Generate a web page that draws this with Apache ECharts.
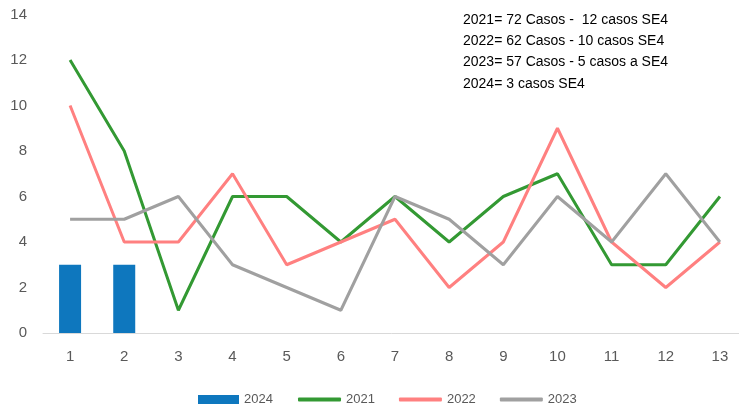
<!DOCTYPE html>
<html><head><meta charset="utf-8">
<script src="https://cdn.jsdelivr.net/npm/echarts@6/dist/echarts.min.js"></script>
<style>html,body{margin:0;padding:0;background:#fff}#c{width:739px;height:411px}</style>
</head><body><div id="c"></div>
<script>
var categories = ['1','2','3','4','5','6','7','8','9','10','11','12','13'];
var s2024 = [3, 3];
var s2021 = [12, 8, 1, 6, 6, 4, 6, 4, 6, 7, 3, 3, 6];
var s2022 = [10, 4, 4, 7, 3, 4, 5, 2, 4, 9, 4, 2, 4];
var s2023 = [5, 5, 6, 3, 2, 1, 6, 5, 3, 6, 4, 7, 4];
var notes = ['2021= 72 Casos -  12 casos SE4', '2022= 62 Casos - 10 casos SE4', '2023= 57 Casos - 5 casos a SE4', '2024= 3 casos SE4'];

var font = 'Liberation Sans, Arial, sans-serif';
var chart = echarts.init(document.getElementById('c'), null, {renderer:'canvas'});
chart.setOption({
  animation: false,
  textStyle: {fontFamily: font},
  grid: {left: 43, top: 14.5, width: 704, height: 318.5, containLabel: false, outerBoundsMode: 'none'},
  xAxis: {
    type: 'category', data: categories, boundaryGap: true,
    axisLine: {lineStyle: {color: '#d9d9d9', width: 1}},
    axisTick: {show: false},
    axisLabel: {color: '#595959', fontSize: 15, margin: 16, fontFamily: font}
  },
  yAxis: {
    type: 'value', min: 0, max: 14, interval: 2,
    axisLine: {show: false}, axisTick: {show: false},
    splitLine: {show: false},
    axisLabel: {color: '#595959', fontSize: 15, margin: 16, fontFamily: font}
  },
  legend: [{
    left: 198, top: 393, padding: 0, itemWidth: 41, itemHeight: 9, icon: 'rect',
    textStyle: {color: '#595959', fontSize: 13, fontFamily: font},
    data: ['2024']
  }, {
    left: 298, top: 393, padding: 0, itemWidth: 43, itemHeight: 4, icon: 'roundRect', itemGap: 24,
    textStyle: {color: '#595959', fontSize: 13, fontFamily: font},
    data: ['2021', '2022', '2023']
  }],
  graphic: notes.map(function(t, i){
    return {type: 'text', left: 463, top: 13 + i * 21.3,
      style: {text: t, fill: '#000', font: '14px ' + font}};
  }),
  series: [
    {name: '2024', type: 'bar', data: s2024, barWidth: 22, itemStyle: {color: '#0E77BE'}, z: 1},
    {name: '2021', type: 'line', data: s2021, symbol: 'none', lineStyle: {color: '#339933', width: 3}, itemStyle: {color: '#339933'}, z: 3},
    {name: '2022', type: 'line', data: s2022, symbol: 'none', lineStyle: {color: '#FF8080', width: 3}, itemStyle: {color: '#FF8080'}, z: 3},
    {name: '2023', type: 'line', data: s2023, symbol: 'none', lineStyle: {color: '#A0A0A0', width: 3}, itemStyle: {color: '#A0A0A0'}, z: 3}
  ]
});
</script></body></html>
